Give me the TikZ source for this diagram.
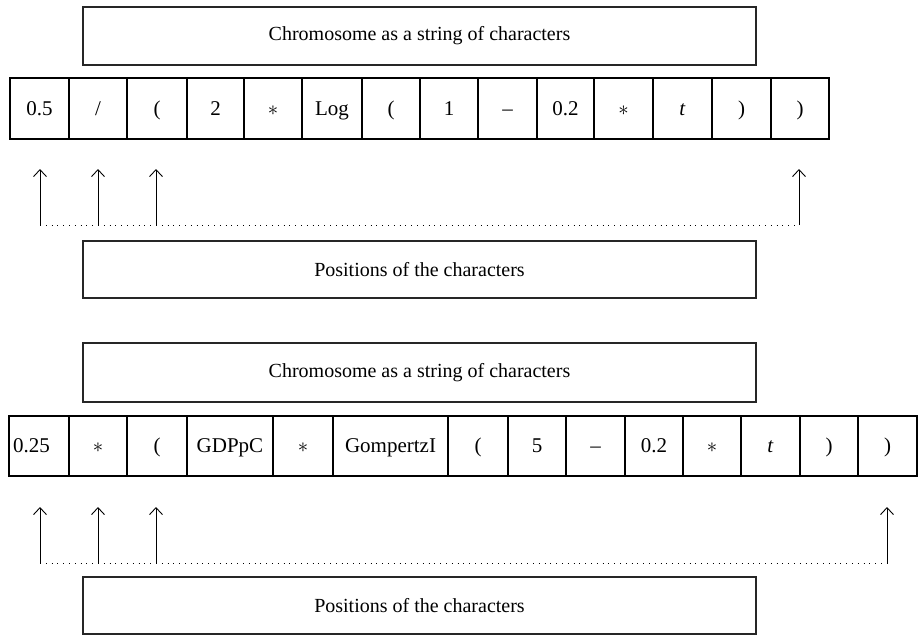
\documentclass[tikz,border=0pt]{standalone}
\usepackage{fontspec}
\setmainfont{Liberation Serif}
\usetikzlibrary{arrows.meta}

\tikzset{
	titlebox/.style={draw=black!85, line width=1.2pt, inner sep=0pt, minimum width=673pt, font=\fontsize{20}{24}\selectfont},
	cell/.style={draw, line width=1.6pt, inner sep=0pt, text height=14pt, text depth=1pt, font=\fontsize{21}{25}\selectfont},
	posarrow/.style={-{Straight Barb[length=7pt,width=13pt]}, line width=0.9pt},
	posline/.style={line width=0.9pt, dash pattern=on 1pt off 4.8pt}
}

\begin{document}
\begin{tikzpicture}[x=1pt, y=-1pt]
	\useasboundingbox (0,0) rectangle (921,637);
	% first chromosome
	\node [titlebox, minimum height=58pt] (chrA) at (419.5,36) {Chromosome as a string of characters};
	\node [cell, minimum width=59pt, minimum height=61pt] (a1) at (39.5,108.5) {0.5};
	\node [cell, minimum width=58pt, minimum height=61pt] (a2) at (98,108.5) {/};
	\node [cell, minimum width=60pt, minimum height=61pt] (a3) at (157,108.5) {(};
	\node [cell, minimum width=57pt, minimum height=61pt] (a4) at (215.5,108.5) {2};
	\node [cell, minimum width=58pt, minimum height=61pt] (a5) at (273,108.5) {$\ast$};
	\node [cell, minimum width=60pt, minimum height=61pt] (a6) at (332,108.5) {Log};
	\node [cell, minimum width=58pt, minimum height=61pt] (a7) at (391,108.5) {(};
	\node [cell, minimum width=58pt, minimum height=61pt] (a8) at (449,108.5) {1};
	\node [cell, minimum width=59pt, minimum height=61pt] (a9) at (507.5,108.5) {--};
	\node [cell, minimum width=57pt, minimum height=61pt] (a10) at (565.5,108.5) {0.2};
	\node [cell, minimum width=59pt, minimum height=61pt] (a11) at (623.5,108.5) {$\ast$};
	\node [cell, minimum width=59pt, minimum height=61pt] (a12) at (682.5,108.5) {\textit{t}};
	\node [cell, minimum width=59pt, minimum height=61pt] (a13) at (741.5,108.5) {)};
	\node [cell, minimum width=58pt, minimum height=61pt] (a14) at (800,108.5) {)};
	\coordinate (ta1) at (40,169);
	\coordinate (ta2) at (98,169);
	\coordinate (ta3) at (156,169);
	\coordinate (ta4) at (799,169);
	\coordinate (pa1) at (40,225);
	\coordinate (pa2) at (98,225);
	\coordinate (pa3) at (156,225);
	\coordinate (pa4) at (799,225);
	\draw [posline] (pa1) -- (pa4);
	\draw [posarrow] (pa1) -- (ta1);
	\draw [posarrow] (pa2) -- (ta2);
	\draw [posarrow] (pa3) -- (ta3);
	\draw [posarrow] (pa4) -- (ta4);
	\node [titlebox, minimum height=57pt] (posA) at (419.5,269.5) {Positions of the characters};
	% second chromosome
	\node [titlebox, minimum height=59pt] (chrB) at (419.5,372.5) {Chromosome as a string of characters};
	\node [cell, minimum width=60pt, minimum height=60pt, text width=52pt, align=left] (b1) at (39,446) {0.25};
	\node [cell, minimum width=58pt, minimum height=60pt] (b2) at (98,446) {$\ast$};
	\node [cell, minimum width=60pt, minimum height=60pt] (b3) at (157,446) {(};
	\node [cell, minimum width=86pt, minimum height=60pt] (b4) at (230,446) {GDPpC};
	\node [cell, minimum width=60pt, minimum height=60pt] (b5) at (303,446) {$\ast$};
	\node [cell, minimum width=115pt, minimum height=60pt] (b6) at (390.5,446) {GompertzI};
	\node [cell, minimum width=60pt, minimum height=60pt] (b7) at (478,446) {(};
	\node [cell, minimum width=58pt, minimum height=60pt] (b8) at (537,446) {5};
	\node [cell, minimum width=59pt, minimum height=60pt] (b9) at (595.5,446) {--};
	\node [cell, minimum width=58pt, minimum height=60pt] (b10) at (654,446) {0.2};
	\node [cell, minimum width=58pt, minimum height=60pt] (b11) at (712,446) {$\ast$};
	\node [cell, minimum width=59pt, minimum height=60pt] (b12) at (770.5,446) {\textit{t}};
	\node [cell, minimum width=58pt, minimum height=60pt] (b13) at (829,446) {)};
	\node [cell, minimum width=59pt, minimum height=60pt] (b14) at (887.5,446) {)};
	\coordinate (tb1) at (40,507);
	\coordinate (tb2) at (98,507);
	\coordinate (tb3) at (156,507);
	\coordinate (tb4) at (887,507);
	\coordinate (pb1) at (40,563);
	\coordinate (pb2) at (98,563);
	\coordinate (pb3) at (156,563);
	\coordinate (pb4) at (887,563);
	\draw [posline] (pb1) -- (pb4);
	\draw [posarrow] (pb1) -- (tb1);
	\draw [posarrow] (pb2) -- (tb2);
	\draw [posarrow] (pb3) -- (tb3);
	\draw [posarrow] (pb4) -- (tb4);
	\node [titlebox, minimum height=57pt] (posB) at (419.5,605.5) {Positions of the characters};
\end{tikzpicture}
\end{document}
